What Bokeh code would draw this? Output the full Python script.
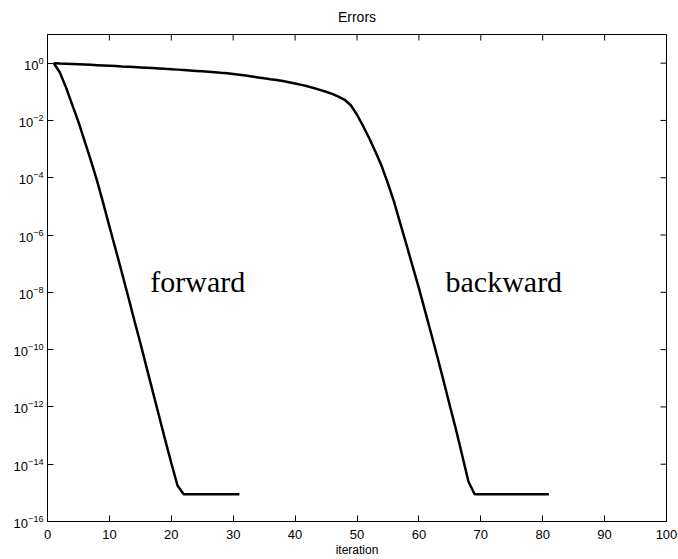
from bokeh.plotting import figure
from bokeh.models import FixedTicker, Range1d, ColumnDataSource
from bokeh.core.properties import value
from bokeh.embed import file_html
from bokeh.resources import INLINE

# ---- data ----
forward_iter = list(range(1, 32))
forward_err = [1.0, 4.7e-1, 1.4e-1, 3.5e-2, 8.9e-3, 1.9e-3, 4.0e-4, 7.9e-5, 1.3e-5, 2.0e-6,
               3.2e-7, 5.0e-8, 7.6e-9, 1.1e-9, 1.7e-10, 2.4e-11, 3.5e-12, 5.0e-13, 7.2e-14, 1.1e-14,
               1.8e-15, 8.9e-16, 8.9e-16, 8.9e-16, 8.9e-16, 8.9e-16, 8.9e-16, 8.9e-16, 8.9e-16, 8.9e-16,
               8.9e-16]

backward_iter = list(range(1, 82))
backward_err = [1.0, 0.977, 0.955, 0.933, 0.912, 0.891, 0.871, 0.851, 0.830, 0.809,
                0.789, 0.769, 0.750, 0.730, 0.710, 0.690, 0.671, 0.652, 0.632, 0.614,
                0.594, 0.575, 0.556, 0.537, 0.518, 0.499, 0.480, 0.460, 0.441, 0.419,
                0.395, 0.369, 0.343, 0.318, 0.295, 0.275, 0.257, 0.237, 0.216, 0.195,
                0.174, 0.155, 0.135, 0.117, 0.100, 0.0850, 0.0676, 0.0525, 0.0339, 0.0158,
                6.3e-3, 2.35e-3, 7.9e-4, 2.5e-4, 6.3e-5, 1.4e-5, 2.5e-6, 4.5e-7, 7.9e-8, 1.4e-8,
                2.2e-9, 3.5e-10, 5.4e-11, 7.9e-12, 1.1e-12, 1.6e-13, 2.0e-14, 2.5e-15, 8.9e-16, 8.9e-16,
                8.9e-16, 8.9e-16, 8.9e-16, 8.9e-16, 8.9e-16, 8.9e-16, 8.9e-16, 8.9e-16, 8.9e-16, 8.9e-16,
                8.9e-16]

curve_names = ["forward", "backward"]
x_ticks = [0, 10, 20, 30, 40, 50, 60, 70, 80, 90, 100]
y_ticks = [1e-16, 1e-14, 1e-12, 1e-10, 1e-8, 1e-6, 1e-4, 1e-2, 1e0]

title_text = "Errors"
x_label = "iteration"

X_MIN, X_MAX = 0, 100
Y_MIN, Y_MAX = 1e-16, 1e1

# label anchor positions (data coords)
label_x = [16.6, 64.3]
label_y = [2.3e-8, 2.3e-8]

SANS = "Liberation Sans"

p = figure(width=678, height=559, y_axis_type="log",
           x_range=Range1d(X_MIN, X_MAX), y_range=Range1d(Y_MIN, Y_MAX),
           output_backend="svg", toolbar_location=None,
           min_border_left=47, min_border_right=12, min_border_top=34, min_border_bottom=37)

p.title.text = title_text
p.title.align = "center"
p.title.vertical_align = "top"
p.title.text_font = SANS
p.title.text_font_size = "14px"
p.title.text_font_style = "normal"
p.title.text_color = "black"
p.title.standoff = 16
p.title.offset = 0

p.grid.visible = False
p.outline_line_color = "black"
p.outline_line_width = 1
p.background_fill_color = "white"
p.border_fill_color = "white"

for ax in (p.xaxis[0], p.yaxis[0]):
    ax.axis_line_color = "black"
    ax.axis_line_width = 1
    ax.major_tick_line_color = "black"
    ax.major_tick_in = 6
    ax.major_tick_out = 0
    ax.minor_tick_line_color = None
    ax.major_label_text_font = SANS
    ax.major_label_text_color = "black"
    ax.major_label_text_font_size = "13px"

p.xaxis.ticker = FixedTicker(ticks=x_ticks)
p.yaxis.ticker = FixedTicker(ticks=y_ticks)
p.xaxis.major_label_standoff = 8
p.yaxis.major_label_standoff = 4
p.xaxis.axis_label = x_label
p.xaxis.axis_label_text_font = SANS
p.xaxis.axis_label_text_font_size = "12px"
p.xaxis.axis_label_text_font_style = "normal"
p.xaxis.axis_label_text_color = "black"
p.xaxis.axis_label_standoff = 1

# inward ticks on the top and right edges of the box (half of each dash is clipped by the frame)
p.scatter(x_ticks, [Y_MAX] * len(x_ticks), marker="dash", angle=1.5708, size=12,
          line_color="black", line_width=1)
p.scatter([X_MAX] * len(y_ticks), y_ticks, marker="dash", size=12,
          line_color="black", line_width=1)

p.line(forward_iter, forward_err, line_color="black", line_width=2.5)
p.line(backward_iter, backward_err, line_color="black", line_width=2.5)

src = ColumnDataSource(dict(x=label_x, y=label_y, t=curve_names))
p.text(x="x", y="y", text="t", source=src, text_font=value("Liberation Serif"),
       text_font_size="30px", text_color="black", text_align="left",
       text_baseline="alphabetic")

open("out.html", "w").write(file_html(p, INLINE))
